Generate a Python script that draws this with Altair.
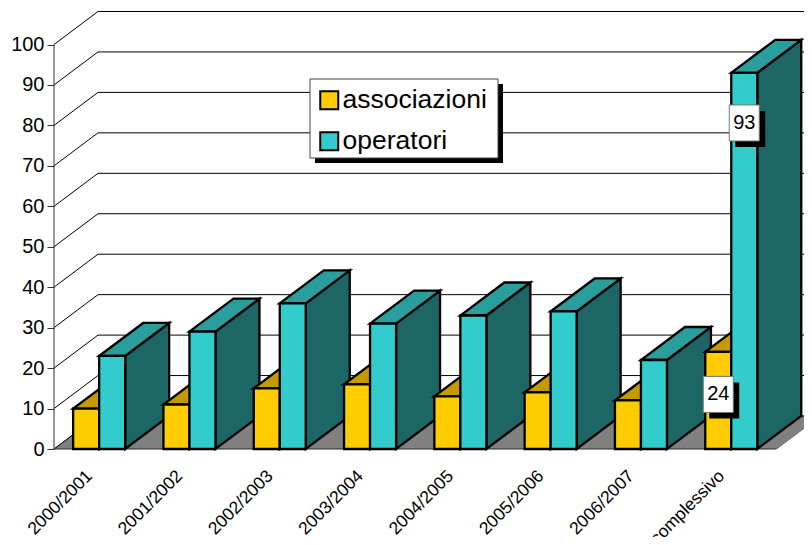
import json
import altair as alt
import pandas as pd

categories = ["2000/2001", "2001/2002", "2002/2003", "2003/2004", "2004/2005", "2005/2006", "2006/2007", "complessivo"]
associazioni = [10, 11, 15, 16, 13, 14, 12, 24]
operatori = [23, 29, 36, 31, 33, 34, 22, 93]
y_ticks = [0, 10, 20, 30, 40, 50, 60, 70, 80, 90, 100]

# chart geometry in data units
PX_X = 90.3
PX_Y = 4.045
DX = 44 / PX_X
DY = 33 / PX_Y
BAR = 26 / PX_X
XDOM = [0, 750 / PX_X]
YDOM = [0, 438 / PX_Y]
FONT = "Liberation Sans"

xs = alt.Scale(domain=XDOM, nice=False, zero=False)
ys = alt.Scale(domain=YDOM, nice=False, zero=False)
tick_labels = json.dumps(categories)
x_axis = alt.Axis(
    values=[i + 0.5 for i in range(len(categories))], labelExpr=f"{tick_labels}[floor(datum.value)]",
    labelAngle=-45, labelAlign="right", labelBaseline="middle", labelFont=FONT, labelFontSize=17.5,
    labelColor="black", ticks=False, domain=False, grid=False, labelPadding=24, labelOffset=-10, title=None,
    labelOverlap=False, labelFlush=False, labelBound=False)
y_axis = alt.Axis(
    values=y_ticks, labelFont=FONT, labelFontSize=20, labelColor="black", tickColor="#333333",
    tickSize=7, labelPadding=3, domain=False, grid=False, title=None,
    labelOverlap=False, labelFlush=False, labelBound=False)
X = lambda f="x": alt.X(f"{f}:Q", scale=xs, axis=x_axis)
Y = lambda f="y": alt.Y(f"{f}:Q", scale=ys, axis=y_axis)

series_names = ["associazioni", "operatori"]
colors = {
    "associazioni": dict(front="#FFCC00", top="#C49A00", side="#806600"),
    "operatori": dict(front="#33CCCC", top="#2A9D9D", side="#1C6666"),
}
legend = alt.Legend(
    title=None, orient="none", legendX=262, legendY=76, padding=0,
    symbolType="square", symbolSize=324,
    symbolStrokeColor="black", symbolStrokeWidth=2, symbolOpacity=1,
    labelFont=FONT, labelFontSize=26.5, labelColor="black", labelOffset=0,
    rowPadding=14, labelLimit=300,
)
color_scale = alt.Scale(domain=series_names, range=[colors[s]["front"] for s in series_names])

layers = []

# floor
floor = pd.DataFrame({"y": [0, DY], "x": [0, DX], "x2": [8, 8 + DX]})
layers.append(alt.Chart(floor).mark_area(orient="horizontal", fill="#808080", stroke="#666666", strokeWidth=1, clip=True).encode(
    y=Y(), x=X(), x2="x2:Q"))

# back wall grid lines
grid_rows = []
for v in y_ticks:
    grid_rows += [dict(v=v, x=0, y=v), dict(v=v, x=DX, y=v + DY), dict(v=v, x=XDOM[1], y=v + DY)]
layers.append(alt.Chart(pd.DataFrame(grid_rows)).mark_line(color="black", strokeWidth=1, clip=True).encode(
    x=X(), y=Y(), detail="v:N"))

# y axis line
layers.append(alt.Chart(pd.DataFrame({"x": [0, 0], "y": [0, 100]})).mark_line(color="#333333", strokeWidth=1).encode(
    x=X(), y=Y()))

# baseline
layers.append(alt.Chart(pd.DataFrame({"x": [0], "x2": [8], "y": [0]})).mark_rule(color="#333333", strokeWidth=1).encode(
    x=X(), x2="x2:Q", y=Y()))

# bars, painted back-to-front so the extruded faces overlap correctly
stroke = dict(stroke="black", strokeWidth=2.3)
for i in range(len(categories)):
    for j, (name, vals) in enumerate(zip(series_names, [associazioni, operatori])):
        v = vals[i]
        xl = i + 0.5 - BAR + j * BAR
        xr = xl + BAR
        c = colors[name]
        side = pd.DataFrame({"x": [xr, xr + DX], "y": [v, v + DY], "y2": [0, DY]})
        layers.append(alt.Chart(side).mark_area(orient="vertical", fill=c["side"], **stroke).encode(
            x=X(), y=Y(), y2="y2:Q"))
        top = pd.DataFrame({"y": [v, v + DY], "x": [xl, xl + DX], "x2": [xr, xr + DX]})
        layers.append(alt.Chart(top).mark_area(orient="horizontal", fill=c["top"], **stroke).encode(
            y=Y(), x=X(), x2="x2:Q"))
        front = pd.DataFrame({"x": [xl], "x2": [xr], "y": [v], "y2": [0], "serie": [name]})
        layers.append(alt.Chart(front).mark_rect(**stroke).encode(
            x=X(), x2="x2:Q", y=Y(), y2="y2:Q",
            color=alt.Color("serie:N", scale=color_scale, legend=legend)))

# legend panel: shadow and white box, the legend itself is drawn on top by Vega
one = pd.DataFrame({"a": [0]})
layers.append(alt.Chart(one).mark_rect(fill="black").encode(
    x=alt.value(261), x2=alt.value(449), y=alt.value(73), y2=alt.value(152)))
layers.append(alt.Chart(one).mark_rect(fill="white", stroke="#444444", strokeWidth=1).encode(
    x=alt.value(256), x2=alt.value(444), y=alt.value(68), y2=alt.value(147)))

# value labels on the last group
labels = pd.DataFrame({
    "x": [7.5 - BAR / 2, 7.5 + BAR / 2],
    "y": [13.5, 80.6],
    "t": [associazioni[-1], operatori[-1]],
})
layers.append(alt.Chart(labels).mark_rect(fill="black", width=30, height=36, xOffset=6, yOffset=6).encode(x=X(), y=Y()))
layers.append(alt.Chart(labels).mark_rect(fill="white", stroke="#777777", strokeWidth=1, width=30, height=36).encode(x=X(), y=Y()))
layers.append(alt.Chart(labels).mark_text(font=FONT, fontSize=20, color="black", align="center", baseline="middle").encode(
    x=X(), y=Y(), text="t:N"))

chart = alt.layer(*layers).properties(
    width=750, height=438,
    autosize=alt.AutoSizeParams(type="none"),
    padding={"left": 46, "top": 3, "right": 0, "bottom": 88},
).configure_view(stroke=None)

chart.save("out.html", embed_options={"renderer": "svg", "actions": False})
